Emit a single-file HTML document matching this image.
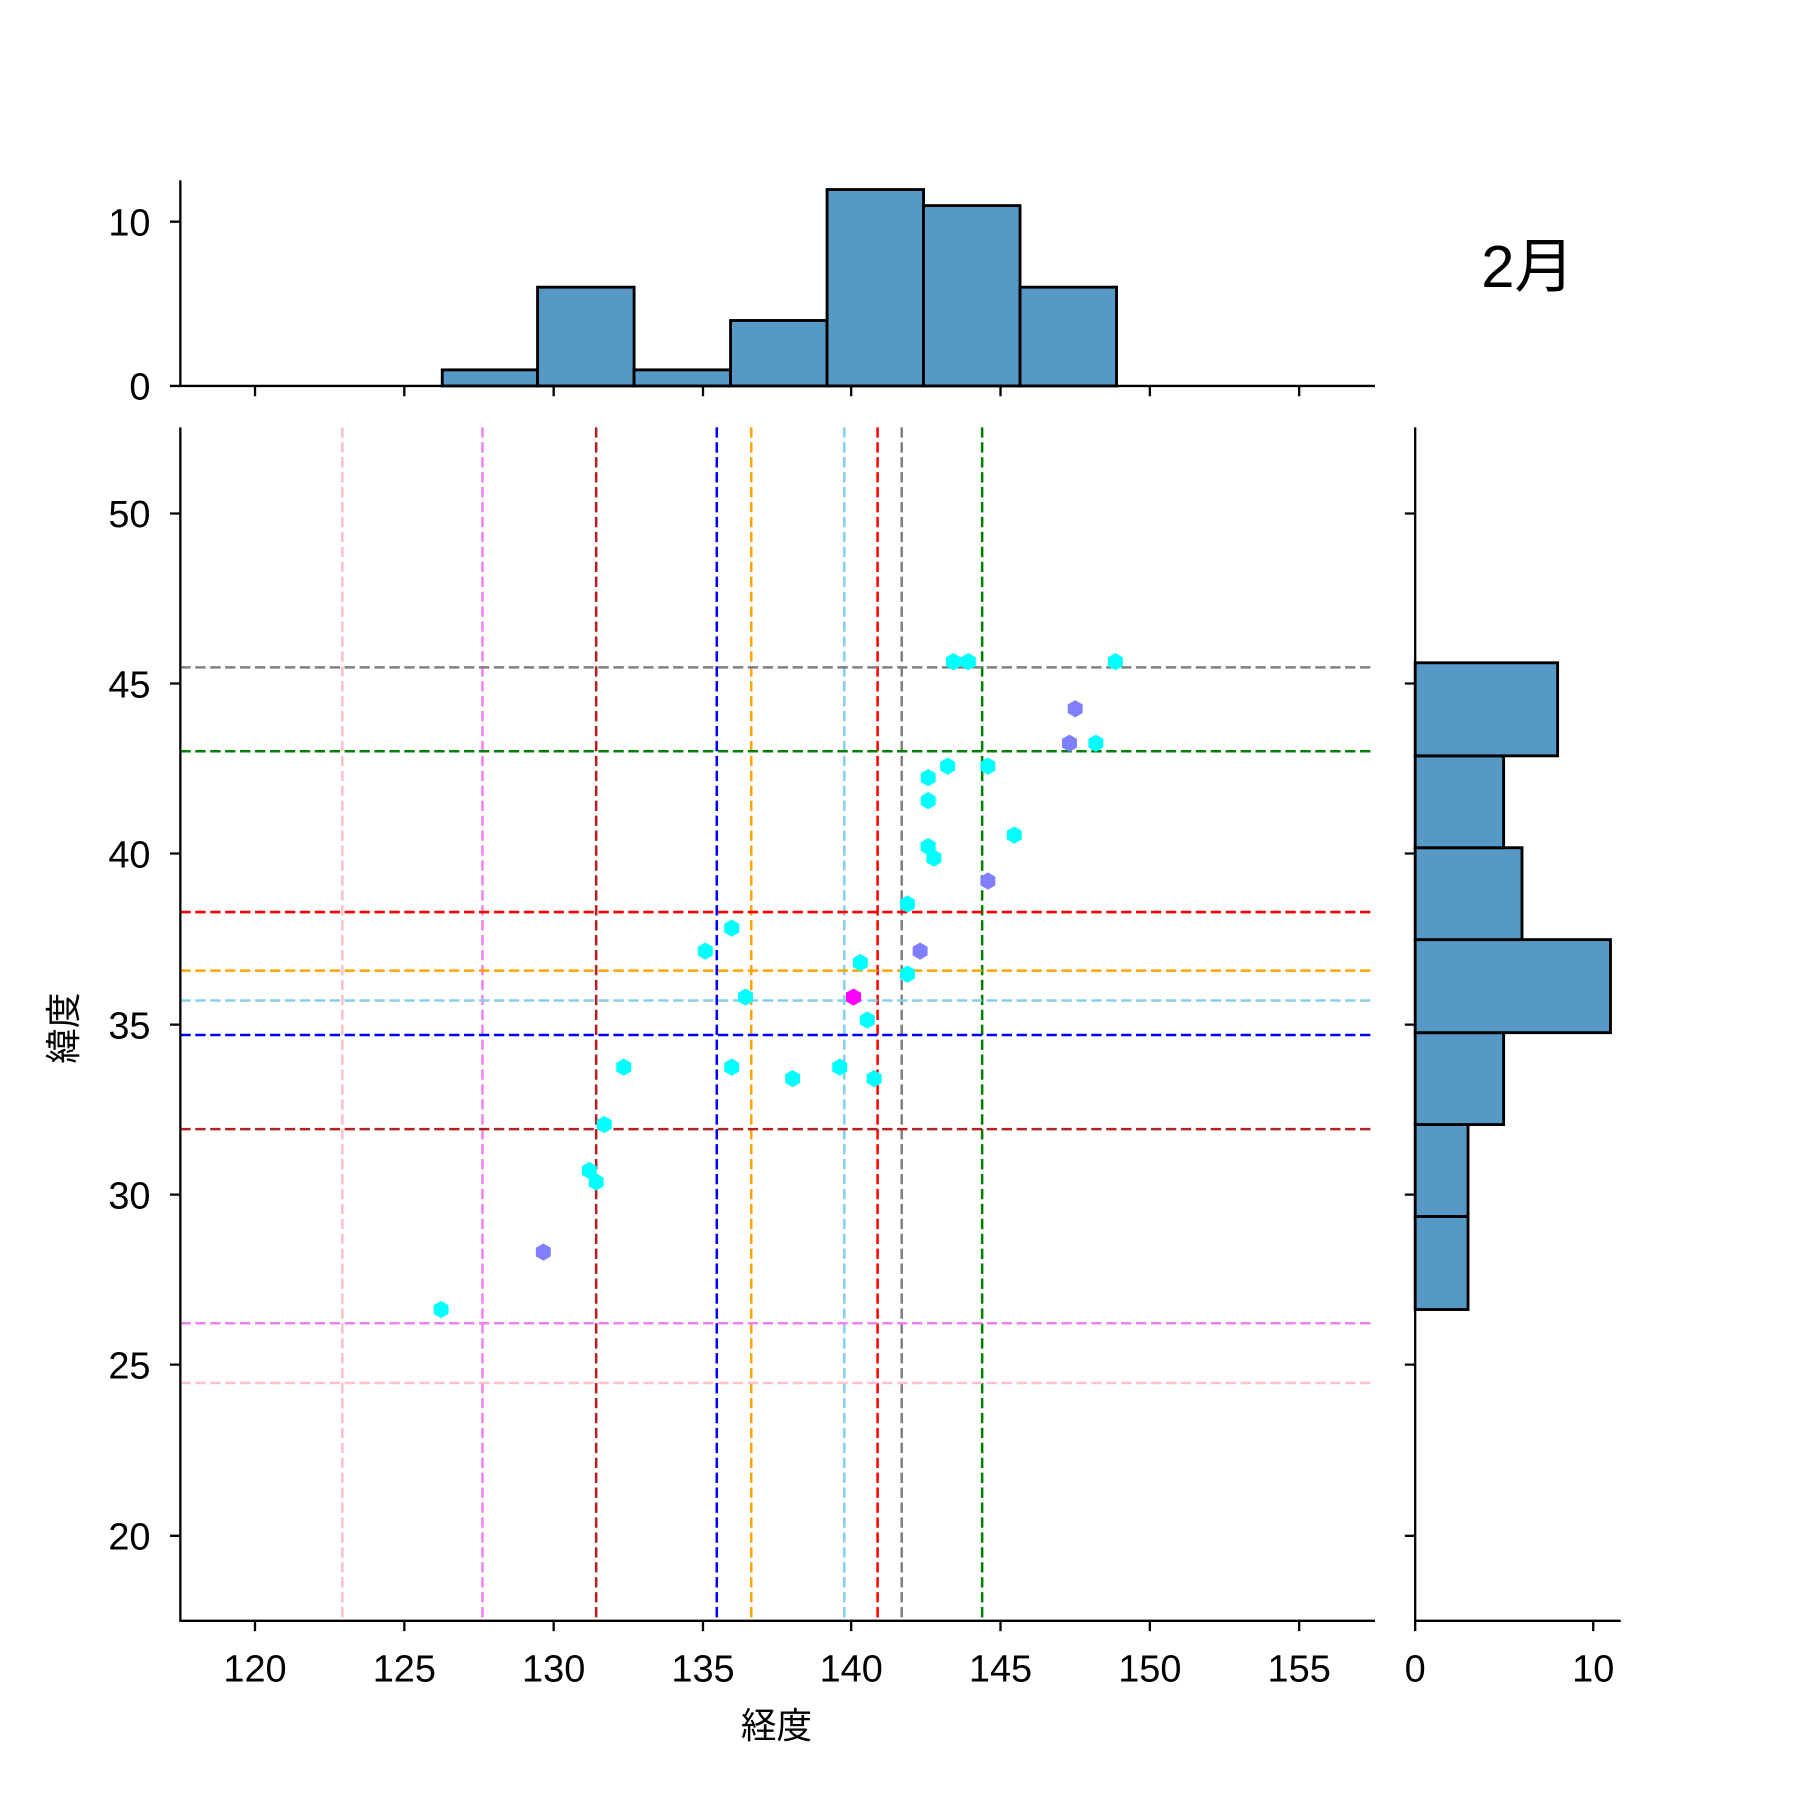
<!DOCTYPE html><html><head><meta charset="utf-8"><style>body{margin:0;background:#fff}svg{display:block}text{font-family:"Liberation Sans","Noto Sans CJK JP",sans-serif;fill:#000}</style></head><body>
<svg width="1800" height="1800" viewBox="0 0 1567 1567" xmlns="http://www.w3.org/2000/svg">
<defs><polygon id="h" points="0,-7.5 6.5,-3.75 6.5,3.75 0,7.5 -6.5,3.75 -6.5,-3.75"/></defs>
<g stroke-width="2.2" stroke-dasharray="9,4" fill="none">
<line x1="298" y1="372" x2="298" y2="1411" stroke="pink"/>
<line x1="420" y1="372" x2="420" y2="1411" stroke="violet"/>
<line x1="519" y1="372" x2="519" y2="1411" stroke="firebrick"/>
<line x1="624" y1="372" x2="624" y2="1411" stroke="blue"/>
<line x1="654" y1="372" x2="654" y2="1411" stroke="orange"/>
<line x1="735" y1="372" x2="735" y2="1411" stroke="skyblue"/>
<line x1="764" y1="372" x2="764" y2="1411" stroke="red"/>
<line x1="785" y1="372" x2="785" y2="1411" stroke="gray"/>
<line x1="855" y1="372" x2="855" y2="1411" stroke="green"/>
<line x1="157" y1="581" x2="1197" y2="581" stroke="gray"/>
<line x1="157" y1="654" x2="1197" y2="654" stroke="green"/>
<line x1="157" y1="794" x2="1197" y2="794" stroke="red"/>
<line x1="157" y1="845" x2="1197" y2="845" stroke="orange"/>
<line x1="157" y1="871" x2="1197" y2="871" stroke="skyblue"/>
<line x1="157" y1="901" x2="1197" y2="901" stroke="blue"/>
<line x1="157" y1="983" x2="1197" y2="983" stroke="firebrick"/>
<line x1="157" y1="1152" x2="1197" y2="1152" stroke="violet"/>
<line x1="157" y1="1204" x2="1197" y2="1204" stroke="pink"/>
</g>
<g fill="#00ffff">
<use href="#h" x="384" y="1140"/><use href="#h" x="513" y="1019"/><use href="#h" x="519" y="1029"/><use href="#h" x="526" y="979"/><use href="#h" x="543" y="929"/><use href="#h" x="614" y="828"/><use href="#h" x="637" y="808"/><use href="#h" x="637" y="929"/><use href="#h" x="649" y="868"/><use href="#h" x="690" y="939"/><use href="#h" x="731" y="929"/><use href="#h" x="749" y="838"/><use href="#h" x="755" y="888"/><use href="#h" x="761" y="939"/><use href="#h" x="790" y="787"/><use href="#h" x="790" y="848"/><use href="#h" x="808" y="737"/><use href="#h" x="813" y="747"/><use href="#h" x="808" y="697"/><use href="#h" x="808" y="677"/><use href="#h" x="825" y="667"/><use href="#h" x="830" y="576"/><use href="#h" x="843" y="576"/><use href="#h" x="860" y="667"/><use href="#h" x="883" y="727"/><use href="#h" x="954" y="647"/><use href="#h" x="971" y="576"/>
</g>
<g fill="#7f7fff"><use href="#h" x="473" y="1090"/><use href="#h" x="801" y="828"/><use href="#h" x="860" y="767"/><use href="#h" x="931" y="647"/><use href="#h" x="936" y="617"/></g>
<use href="#h" x="743" y="868" fill="#ff00ff"/>
<g fill="#5799c6" stroke="#000" stroke-width="2.5">
<rect x="385" y="322" width="83" height="14"/><rect x="468" y="250" width="84" height="86"/><rect x="552" y="322" width="84" height="14"/><rect x="636" y="279" width="84" height="57"/><rect x="720" y="165" width="84" height="171"/><rect x="804" y="179" width="84" height="157"/><rect x="888" y="250" width="84" height="86"/>
<rect x="1232" y="1059" width="46" height="81"/><rect x="1232" y="979" width="46" height="80"/><rect x="1232" y="899" width="77" height="80"/><rect x="1232" y="818" width="170" height="81"/><rect x="1232" y="738" width="93" height="80"/><rect x="1232" y="658" width="77" height="80"/><rect x="1232" y="577" width="124" height="81"/>
</g>
<g stroke="#000" stroke-width="2" fill="none">
<path d="M157 372V1411H1197"/><path d="M157 157V336H1197"/><path d="M1232 372V1411H1411"/>
<path d="M222 1411v9M352 1411v9M482 1411v9M612 1411v9M741 1411v9M871 1411v9M1001 1411v9M1131 1411v9"/>
<path d="M222 336v9M352 336v9M482 336v9M612 336v9M741 336v9M871 336v9M1001 336v9M1131 336v9"/>
<path d="M157 447h-9M157 595h-9M157 743h-9M157 892h-9M157 1040h-9M157 1188h-9M157 1337h-9"/>
<path d="M1232 447h-9M1232 595h-9M1232 743h-9M1232 892h-9M1232 1040h-9M1232 1188h-9M1232 1337h-9"/>
<path d="M157 193h-9M157 336h-9M1232 1411v9M1387 1411v9"/>
</g>
<g font-size="33" text-anchor="middle">
<text x="222" y="1464">120</text><text x="352" y="1464">125</text><text x="482" y="1464">130</text><text x="612" y="1464">135</text><text x="741" y="1464">140</text><text x="871" y="1464">145</text><text x="1001" y="1464">150</text><text x="1131" y="1464">155</text><text x="1232" y="1464">0</text><text x="1387" y="1464">10</text>
<text x="676" y="1513" font-size="31">経度</text>
</g>
<g font-size="33" text-anchor="end">
<text x="131" y="459">50</text><text x="131" y="607">45</text><text x="131" y="755">40</text><text x="131" y="904">35</text><text x="131" y="1052">30</text><text x="131" y="1200">25</text><text x="131" y="1349">20</text>
<text x="131" y="205">10</text><text x="131" y="348">0</text>
</g>
<text x="0" y="0" font-size="31" text-anchor="middle" transform="translate(66,895) rotate(-90)">緯度</text>
<text x="1330" y="250" font-size="52" text-anchor="middle">2月</text>
</svg></body></html>
